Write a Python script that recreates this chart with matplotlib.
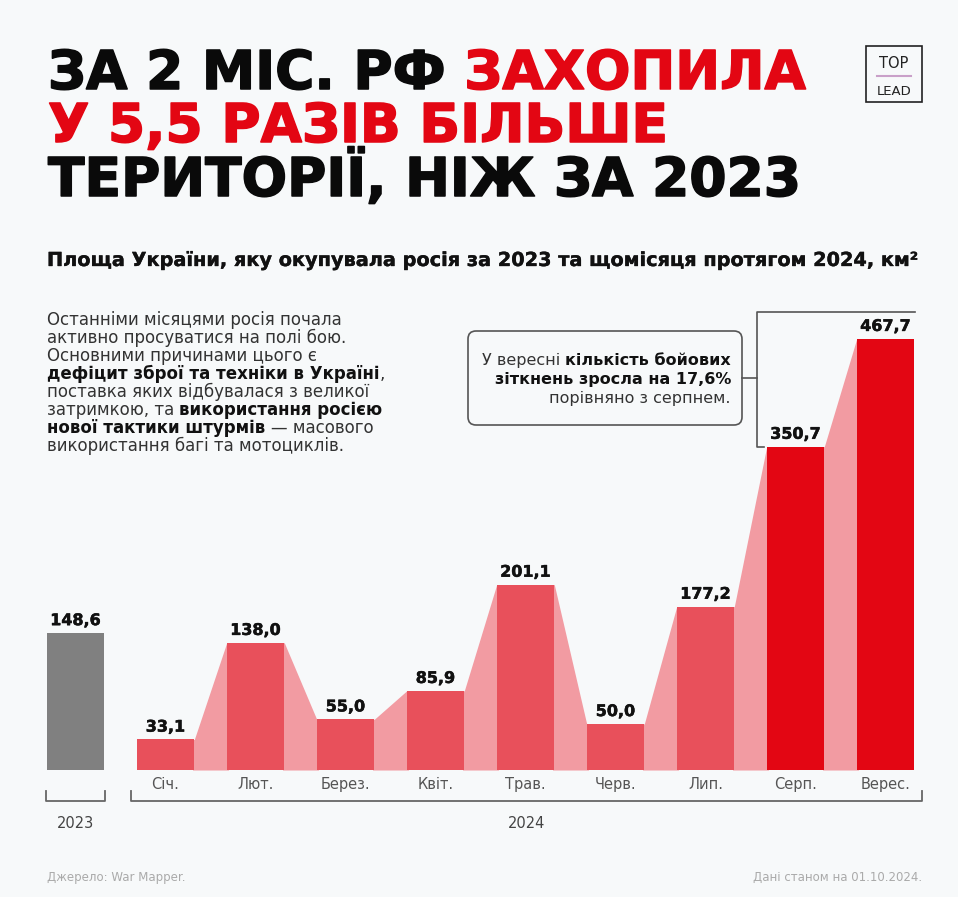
import matplotlib
matplotlib.use("Agg")
import matplotlib.pyplot as plt
import matplotlib.patheffects as pe
from matplotlib.patches import FancyBboxPatch, Rectangle
import numpy as np

# ---------------- data ----------------
year_category = "2023"
year_value = 148.6
months = ["Січ.", "Лют.", "Берез.", "Квіт.", "Трав.", "Черв.", "Лип.", "Серп.", "Верес."]
month_values = [33.1, 138.0, 55.0, 85.9, 201.1, 50.0, 177.2, 350.7, 467.7]
group_2024 = "2024"
highlight_from = 7  # Серп., Верес.

title_l1_black = "ЗА 2 МІС. РФ"
title_l1_red = "ЗАХОПИЛА"
title_l2 = "У 5,5 РАЗІВ БІЛЬШЕ"
title_l3 = "ТЕРИТОРІЇ, НІЖ ЗА 2023"
subtitle = "Площа України, яку окупувала росія за 2023 та щомісяця протягом 2024, км²"
source = "Джерело: War Mapper."
date_note = "Дані станом на 01.10.2024."

# ---------------- style ----------------
W, H, DPI = 958, 897, 100
BG = "#F7F9FA"
RED = "#E30613"
BAR = "#E8505B"
CONN = "#F29BA2"
GRAY = "#808080"
FONT = ["DejaVu Sans"]

plt.rcParams["font.family"] = FONT

fig = plt.figure(figsize=(W / DPI, H / DPI), dpi=DPI, facecolor=BG)

# overlay in pixel coordinates for texts / decorations
ov = fig.add_axes([0, 0, 1, 1], zorder=0)
ov.set_xlim(0, W)
ov.set_ylim(H, 0)
ov.axis("off")

# bar axes: baseline at y=770 px, 0.922 px per km2
base_px = 770
px_per_unit = 0.922
ax_h_px = 480
ax = fig.add_axes([0, (H - base_px) / H, 1, ax_h_px / H], zorder=1)
ax.patch.set_alpha(0)
pitch = 90.0
c0 = 75.5  # pixel centre of the 2023 bar (position -1)
ax.set_xlim((0 - c0) / pitch - 1, (W - c0) / pitch - 1)
ax.set_ylim(0, ax_h_px / px_per_unit)
for s in ax.spines.values():
    s.set_visible(False)
ax.set_yticks([])

bw = 0.64
xm = np.arange(len(months))
cols = [RED if i >= highlight_from else BAR for i in range(len(months))]

# connectors (slightly tucked under the bars to avoid seams)
eps = 0.02
for i in range(len(months) - 1):
    xs = [xm[i] + bw / 2 - eps, xm[i] + bw / 2, xm[i + 1] - bw / 2, xm[i + 1] - bw / 2 + eps]
    ys = [month_values[i], month_values[i], month_values[i + 1], month_values[i + 1]]
    ax.fill_between(xs, ys, 0, color=CONN, lw=0, zorder=2)

ax.bar([-1], [year_value], width=bw, color=GRAY, lw=0, zorder=3)
ax.bar(xm, month_values, width=bw, color=cols, lw=0, zorder=3)

def fmt(v):
    return f"{v:.1f}".replace(".", ",")

for x, v in zip([-1] + list(xm), [year_value] + month_values):
    ax.annotate(fmt(v), (x, v), xytext=(0, 3.5), textcoords="offset points",
                ha="center", va="bottom", fontsize=11.5, fontweight="bold",
                color="#111111", zorder=4,
                path_effects=[pe.withStroke(linewidth=0.35, foreground="#111111")])

ax.set_xticks(xm, months)
ax.tick_params(axis="x", length=0, pad=5, labelsize=10.5, labelcolor="#555555")

# ---------------- texts ----------------
fig.canvas.draw()
r = fig.canvas.get_renderer()

def width(s, **kw):
    t = ov.text(0, 0, s, **kw)
    w = t.get_window_extent(r).width
    t.remove()
    return w

def fit_size(s, target, **kw):
    w = width(s, fontsize=20, **kw)
    return 20 * target / w

def runs(x, y, parts, ha="left", **common):
    sp = width("a a", **common, **parts[0][1]) - width("aa", **common, **parts[0][1])
    ws = []
    for txt, kw in parts:
        if txt.strip() == "":
            ws.append(sp * len(txt))
        else:
            ws.append(width(txt, **common, **kw))
    total = sum(ws)
    cx = x - total if ha == "right" else x
    for (txt, kw), w in zip(parts, ws):
        if txt.strip() != "":
            ov.text(cx, y, txt, ha="left", va="baseline", **common, **kw)
        cx += w

# title (heavy: bold + thin stroke in the same colour)
line1_full = title_l1_black + " " + title_l1_red
tsize = fit_size(line1_full, 757, fontweight="bold")
blk = "#0A0A0A"
def tk(c):
    return dict(color=c, fontweight="bold",
                path_effects=[pe.withStroke(linewidth=1.1, foreground=c)])
runs(48, 89, [(title_l1_black, tk(blk)), (" ", tk(blk)), (title_l1_red, tk(RED))], fontsize=tsize)
ov.text(48, 142, title_l2, fontsize=tsize, va="baseline", **tk(RED))
ov.text(48, 196, title_l3, fontsize=tsize, va="baseline", **tk(blk))

# subtitle
ssize = fit_size(subtitle, 872, fontweight="bold")
ov.text(47, 266, subtitle, fontsize=ssize, fontweight="bold", color="#111111", va="baseline",
        path_effects=[pe.withStroke(linewidth=0.25, foreground="#111111")])

# logo
ov.add_patch(Rectangle((866, 46), 56, 56, fill=False, ec="#222222", lw=1.2))
ov.text(894, 68, "TOP", ha="center", va="baseline", fontsize=10.5, color="#222222")
ov.plot([877, 911], [76, 76], color="#C9A0C9", lw=1.5)
ov.text(894, 95, "LEAD", ha="center", va="baseline", fontsize=9.5, color="#222222")

# paragraph
R = dict(color="#333333")
B = dict(color="#111111", fontweight="bold")
bsize = fit_size("Останніми місяцями росія почала", 295)
para = [
    [("Останніми місяцями росія почала", R)],
    [("активно просуватися на полі бою.", R)],
    [("Основними причинами цього є", R)],
    [("дефіцит зброї та техніки в Україні", B), (",", R)],
    [("поставка яких відбувалася з великої", R)],
    [("затримкою, та", R), (" ", R), ("використання росією", B)],
    [("нової тактики штурмів", B), (" ", R), ("— масового", R)],
    [("використання багі та мотоциклів.", R)],
]
for k, line in enumerate(para):
    runs(47, 325 + 18.0 * k, line, fontsize=bsize)

# annotation box
ov.add_patch(FancyBboxPatch((468, 331), 274, 94, boxstyle="round,pad=0,rounding_size=8",
                            fc="none", ec="#555555", lw=1.2))
ann = [
    [("У вересні", R), (" ", R), ("кількість бойових", B)],
    [("зіткнень зросла на 17,6%", B)],
    [("порівняно з серпнем.", R)],
]
for k, line in enumerate(ann):
    runs(731, 365 + 19 * k, line, ha="right", fontsize=bsize * 0.96)

# bracket to the right of the box
bc = "#555555"
ov.plot([742, 757], [378, 378], color=bc, lw=1.2)
ov.plot([915, 757, 757, 764], [312, 312, 447, 447], color=bc, lw=1.2)

# group brackets under the axis
def group_bracket(x0, x1, y0=791, y1=801):
    ov.plot([x0, x0, x1, x1], [y0, y1, y1, y0], color="#666666", lw=1.3)

group_bracket(46, 105)
group_bracket(131.5, 922)
ov.text(75.5, 824, year_category, ha="center", va="center", fontsize=10.5, color="#444444")
ov.text(527, 824, group_2024, ha="center", va="center", fontsize=10.5, color="#444444")

# footer
ov.text(47, 877, source, ha="left", va="center", fontsize=8.5, color="#AAAAAA")
ov.text(922, 877, date_note, ha="right", va="center", fontsize=8.5, color="#AAAAAA")

fig.savefig("out.png", dpi=DPI, facecolor=BG)
